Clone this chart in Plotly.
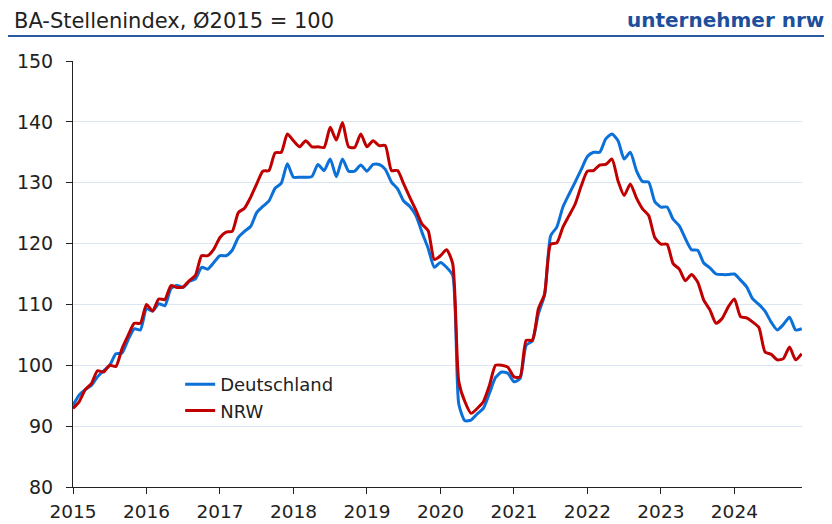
import plotly.graph_objects as go

start_year = 2015
deutschland = [
    93.4, 95.1, 96.0, 96.7, 98.1, 99.1, 100.0, 101.9, 102.0, 104.2, 106.0, 105.8,
    109.3, 108.9, 110.1, 109.8, 112.6, 113.1, 112.8, 113.8, 114.2, 116.1, 115.8, 116.9,
    118.0, 118.0, 118.9, 121.0, 122.0, 122.8, 125.1, 126.1, 127.0, 129.1, 129.9, 133.1,
    130.9, 130.9, 130.9, 131.0, 133.0, 132.0, 133.9, 131.0, 133.9, 131.9, 131.9, 132.9,
    131.9, 133.0, 133.0, 132.2, 130.1, 129.0, 127.0, 126.1, 124.6, 121.8, 119.2, 116.1,
    116.9, 116.1, 114.8, 93.6, 90.9, 91.0, 92.0, 92.9, 95.4, 98.0, 98.9, 98.7,
    97.3, 97.8, 103.3, 104.0, 108.5, 111.5, 121.3, 122.7, 126.0, 128.1, 130.1, 132.2,
    134.3, 135.0, 135.0, 137.2, 138.0, 136.9, 133.9, 135.0, 132.0, 130.2, 130.1, 126.9,
    126.0, 126.0, 124.0, 122.9, 120.8, 119.0, 118.9, 116.8, 116.0, 115.0, 114.9, 114.9,
    115.0, 114.0, 112.9, 110.9, 110.0, 108.9, 107.1, 105.8, 106.7, 107.9, 105.8, 106.0,
]
nrw = [
    92.9, 94.0, 96.0, 97.0, 99.1, 98.9, 100.0, 99.8, 102.7, 104.9, 106.9, 106.9,
    110.0, 108.9, 110.9, 110.8, 113.1, 112.8, 112.9, 113.9, 114.8, 118.0, 118.0, 119.1,
    121.0, 121.9, 122.0, 125.1, 125.8, 127.6, 129.8, 131.9, 132.0, 134.9, 135.0, 138.0,
    136.9, 135.9, 136.9, 135.9, 135.9, 135.8, 139.1, 137.0, 139.9, 135.9, 135.8, 138.0,
    135.9, 136.9, 136.1, 136.1, 132.0, 132.0, 129.8, 127.6, 125.5, 123.2, 122.1, 117.4,
    118.0, 119.0, 116.7, 97.3, 94.0, 92.1, 92.9, 94.0, 96.7, 100.0, 100.0, 99.7,
    98.1, 98.1, 104.1, 104.1, 109.3, 111.7, 119.9, 120.1, 122.7, 124.6, 126.5, 129.5,
    131.9, 132.0, 132.9, 133.0, 133.9, 130.3, 127.9, 129.8, 127.5, 125.7, 124.6, 121.0,
    119.9, 119.9, 116.7, 115.8, 113.9, 114.9, 113.7, 110.7, 109.1, 106.9, 107.7, 109.6,
    110.9, 108.0, 107.8, 107.1, 106.2, 102.2, 101.8, 100.9, 101.1, 103.0, 100.9, 101.9,
]
x_ticks = [2015, 2016, 2017, 2018, 2019, 2020, 2021, 2022, 2023, 2024]
x_tick_labels = [str(v) for v in x_ticks]
y_ticks = [80, 90, 100, 110, 120, 130, 140, 150]

months = [start_year + i / 12 for i in range(len(deutschland))]

FONT = "DejaVu Sans, Liberation Sans, sans-serif"
BLUE = "#0b70d8"
RED = "#c00000"
TEXT = "#222222"

fig = go.Figure()
fig.add_trace(go.Scatter(x=months, y=deutschland, name="Deutschland", mode="lines",
                         line=dict(color=BLUE, width=3, shape="spline", smoothing=0.6)))
fig.add_trace(go.Scatter(x=months, y=nrw, name="NRW", mode="lines",
                         line=dict(color=RED, width=3, shape="spline", smoothing=0.6)))

# page body has an 8px margin: figure is 824x516 placed at (8, 8)
fig.update_layout(
    width=824, height=516,
    margin=dict(l=65, r=30, t=53, b=37),
    paper_bgcolor="white", plot_bgcolor="white",
    font=dict(family=FONT, size=18, color=TEXT),
    showlegend=True,
    legend=dict(x=0.147, y=0.284, xanchor="left", yanchor="top",
                bgcolor="rgba(0,0,0,0)", font=dict(size=18, color=TEXT),
                itemwidth=30, tracegroupgap=0),
    xaxis=dict(range=[2015, 2024.92], tickvals=x_ticks, ticktext=x_tick_labels,
               showgrid=False, zeroline=False, showline=True, linecolor=TEXT,
               linewidth=1, ticks="outside", ticklen=6, tickcolor=TEXT,
               ticklabelstandoff=2, tickfont=dict(size=18.5), automargin=False),
    yaxis=dict(range=[80, 150], tickvals=y_ticks, showgrid=True, gridcolor="#dce6f2",
               gridwidth=1, zeroline=False, showline=True, linecolor=TEXT,
               linewidth=1, ticks="outside", ticklen=6, tickcolor=TEXT,
               ticklabelstandoff=9, tickfont=dict(size=19), automargin=False),
)

fig.add_annotation(text="BA-Stellenindex, Ø2015 = 100", xref="paper", yref="paper",
                   x=-0.083, y=1.095, xanchor="left", yanchor="middle", showarrow=False,
                   font=dict(family=FONT, size=21, color=TEXT))
fig.add_annotation(text="<b>unternehmer nrw</b>", xref="paper", yref="paper",
                   x=1.033, y=1.096, xanchor="right", yanchor="middle", showarrow=False,
                   font=dict(family=FONT, size=20, color="#1d4f9c"))
fig.add_shape(type="line", xref="paper", yref="paper", x0=-0.09, x1=1.042,
              y0=1.0587, y1=1.0587, line=dict(color="#2a5a9f", width=2))

fig.write_html("out.html")
